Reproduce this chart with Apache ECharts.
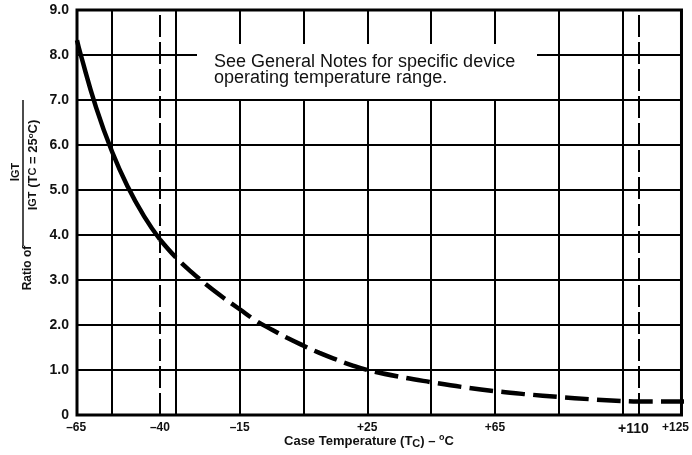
<!DOCTYPE html>
<html>
<head>
<meta charset="UTF-8">
<title>IGT ratio vs case temperature</title>
<script type="text/javascript" src="https://cdn.jsdelivr.net/npm/echarts@6/dist/echarts.min.js"></script>
<style>
  body{margin:0;background:#fff}
</style>
</head>
<body>
<div id="main" style="width:692px;height:455px"></div>
<script type="text/javascript">
// curve: solid part up to -40, dashed part after it
var tempSolid = [-66, -65, -60, -55, -50, -45, -40];
var ratioSolid = [8.33, 8.05, 6.83, 5.85, 5.06, 4.42, 3.9];
var tempDash = [-40, -35, -30, -25, -20, -15, -10, -5, 0, 5, 10, 15, 20, 25, 35, 45, 55, 65, 75, 85, 95, 105, 110, 125];
var ratioDash = [3.9, 3.5, 3.17, 2.87, 2.6, 2.35, 2.1, 1.9, 1.71, 1.54, 1.38, 1.24, 1.11, 1.0, 0.85, 0.73, 0.62, 0.53, 0.46, 0.4, 0.35, 0.31, 0.3, 0.3];

// vertical rules of the chart paper and the two dashed limits
var gridX = [-55, -35, -15, 5, 25, 45, 65, 85, 105];
var limitX = [-40, 110];

// x tick labels (the paper's right border carries the +125 label)
var xLabels = {'-65': '{l|\u201365}', '-40': '\u201340', '-15': '\u201315', '25': '+25', '65': '+65', '110': '{big|+110}', '123.5': '{r|+125}'};

var font = 'Liberation Sans';

function pairs(xs, ys) {
  return xs.map(function (x, i) { return [x, ys[i]]; });
}

var chart = echarts.init(document.getElementById('main'));

var option = {
  animation: false,
  grid: {
    left: 77, right: 9, top: 10, bottom: 40,
    show: true, borderColor: '#000', borderWidth: 3, backgroundColor: 'transparent'
  },
  xAxis: {
    type: 'value', min: -66, max: 123.5, interval: 0.5,
    axisLine: {show: false},
    axisTick: {show: false},
    splitLine: {show: false},
    axisLabel: {
      margin: 7, showMinLabel: true, showMaxLabel: true,
      color: '#111', fontFamily: font, fontWeight: 'bold', fontSize: 12,
      formatter: function (v) { return xLabels[String(v)] || ''; },
      rich: {
        big: {fontSize: 14, fontWeight: 'bold', fontFamily: font, color: '#111', padding: [0, 10, 0, 0]},
        l: {fontSize: 12, fontWeight: 'bold', fontFamily: font, color: '#111', padding: [0, 8, 0, 0]},
        r: {fontSize: 12, fontWeight: 'bold', fontFamily: font, color: '#111', padding: [0, 12, 0, 0]}
      }
    }
  },
  yAxis: {
    type: 'value', min: 0, max: 9, interval: 1,
    axisLine: {show: false},
    axisTick: {show: false},
    splitLine: {show: true, lineStyle: {color: '#000', width: 2}},
    axisLabel: {
      margin: 8,
      color: '#111', fontFamily: font, fontWeight: 'bold', fontSize: 14,
      formatter: function (v) { return v === 0 ? '0' : v.toFixed(1); }
    }
  },
  series: [
    {
      // paper grid: vertical rules
      type: 'line', data: [], z: 1, silent: true,
      markLine: {
        silent: true, symbol: 'none', label: {show: false},
        lineStyle: {color: '#000', width: 2, type: 'solid'},
        data: gridX.map(function (v) { return {xAxis: v}; })
          .concat(limitX.map(function (v) {
            return {xAxis: v, lineStyle: {type: [22, 5], width: 2, color: '#000'}};
          }))
      }
    },
    {
      type: 'line', data: pairs(tempSolid, ratioSolid), smooth: 0.5,
      showSymbol: false, z: 3,
      lineStyle: {color: '#000', width: 4.5}
    },
    {
      type: 'line', data: pairs(tempDash, ratioDash), smooth: 0.4,
      showSymbol: false, z: 3,
      lineStyle: {color: '#000', width: 4.5, type: [24, 8]}
    }
  ],
  graphic: [
    {type: 'rect', shape: {x: 197, y: 44, width: 340, height: 55}, style: {fill: '#fff'}, z: 10},
    {
      type: 'text', x: 214, y: 54, z: 11,
      style: {
        text: 'See General Notes for specific device\noperating temperature range.',
        font: '18px "' + font + '"', fill: '#111', lineHeight: 16
      }
    },
    {
      type: 'text', x: 369, y: 441, z: 11,
      style: {
        text: 'Case Temperature (T{s|C}) \u2013 {o|o}C',
        font: 'bold 13px "' + font + '"', fill: '#111', align: 'center', verticalAlign: 'middle',
        rich: {
          s: {fontSize: 11, fontWeight: 'bold', fontFamily: font, padding: [5, 0, 0, 0]},
          o: {fontSize: 9, fontWeight: 'bold', fontFamily: font, padding: [0, 0, 6, 0]}
        }
      }
    },
    {
      type: 'text', x: 28, y: 268, rotation: Math.PI / 2, z: 11,
      style: {text: 'Ratio of', font: 'bold 12px "' + font + '"', fill: '#111', align: 'center', verticalAlign: 'middle'}
    },
    {type: 'line', shape: {x1: 23, y1: 100, x2: 23, y2: 246}, style: {stroke: '#111', lineWidth: 1.5}, z: 11},
    {
      type: 'text', x: 16, y: 172, rotation: Math.PI / 2, z: 11,
      style: {
        text: 'I{s|GT}', font: 'bold 12px "' + font + '"', fill: '#111', align: 'center', verticalAlign: 'middle',
        rich: {s: {fontSize: 11, fontWeight: 'bold', fontFamily: font}}
      }
    },
    {
      type: 'text', x: 33, y: 165, rotation: Math.PI / 2, z: 11,
      style: {
        text: 'I{s|GT} (T{s|C} = 25{o|o}C)', font: 'bold 13px "' + font + '"', fill: '#111', align: 'center', verticalAlign: 'middle',
        rich: {
          s: {fontSize: 11, fontWeight: 'bold', fontFamily: font},
          o: {fontSize: 8, fontWeight: 'bold', fontFamily: font, padding: [0, 0, 4, 0]}
        }
      }
    }
  ]
};
chart.setOption(option);
</script>
</body>
</html>
